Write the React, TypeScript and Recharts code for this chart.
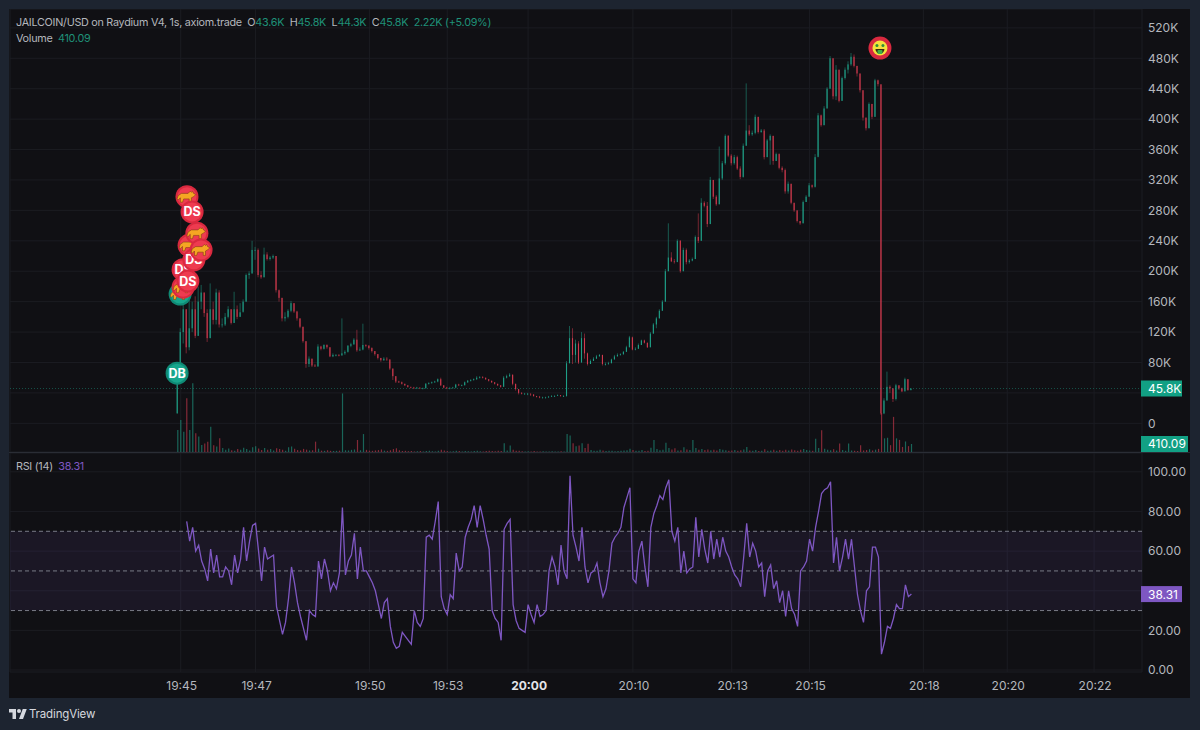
import { Bar, CartesianGrid, Cell, ComposedChart, Line, LineChart, ReferenceArea, ReferenceDot, ReferenceLine, XAxis, YAxis } from 'recharts';

/* every bar is one step on the time index, the chart starts at index 56 */
const firstBar = 56;
const firstRsi = 59;
const firstOpen = 13;
const timeDomain = [0, 378];

const timeTicks = [57, 82, 120, 146, 173, 208, 241, 267, 305, 333, 362];
const timeLabels = ['19:45', '19:47', '19:50', '19:53', '20:00', '20:10', '20:13', '20:15', '20:18', '20:20', '20:22'];
const priceTicks = [0, 40, 80, 120, 160, 200, 240, 280, 320, 360, 400, 440, 480, 520];
const rsiTicks = [0, 20, 40, 60, 80, 100];

/* prices in thousands of USD */
const closes = [
  53, 120, 150, 100, 125, 150, 115, 160, 172, 145,
  112, 150, 136, 172, 130, 130, 140, 150, 132, 150,
  140, 146, 160, 195, 197, 228, 228, 195, 192, 222,
  216, 218, 220, 175, 165, 138, 140, 148, 158, 147,
  138, 127, 108, 78, 85, 76, 75, 101, 98, 103,
  100, 88, 90, 90, 89, 92, 94, 102, 104, 110,
  96, 97, 103, 102, 99, 95, 91, 86, 83, 85,
  84, 72, 62, 55, 54, 52, 50, 48, 47, 46,
  47, 46, 46, 52, 53, 54, 55, 58, 50, 47,
  46, 46, 47, 51, 50, 50, 54, 56, 57, 58,
  60, 61, 60, 58, 56, 54, 52, 50, 48, 60,
  62, 64, 52, 45, 40, 39, 39, 39, 38, 36,
  35, 34, 34, 34, 35, 36, 36, 37, 36, 36,
  79, 112, 90, 105, 80, 112, 92, 78, 82, 85,
  88, 90, 78, 78, 79, 84, 88, 90, 91, 94,
  100, 113, 97, 98, 103, 109, 106, 100, 118, 130,
  138, 148, 160, 200, 218, 213, 212, 240, 200, 228,
  212, 214, 216, 245, 240, 290, 286, 262, 320, 298,
  288, 322, 342, 378, 352, 342, 350, 335, 324, 365,
  385, 380, 382, 403, 383, 385, 350, 372, 378, 345,
  354, 336, 333, 305, 315, 290, 280, 266, 263, 291,
  298, 313, 311, 350, 405, 392, 414, 440, 480, 430,
  465, 424, 454, 465, 472, 482, 470, 460, 438, 402,
  388, 420, 403, 451, 446, 13, 30, 48, 46, 32,
  50, 46, 42, 58, 43.6, 45.8,
];

const highs = [
  53, 125, 178, 150, 165, 160, 167, 180, 182, 172,
  150, 184, 160, 177, 175, 138, 145, 154, 150, 173,
  155, 158, 163, 197, 200, 240, 232, 230, 200, 231,
  225, 220, 222, 220, 176, 165, 146, 150, 161, 158,
  148, 138, 127, 108, 88, 85, 78, 104, 102, 104,
  104, 100, 92, 91, 91, 138, 96, 103, 106, 112,
  123, 100, 131, 104, 103, 100, 95, 91, 86, 87,
  87, 84, 72, 62, 56, 55, 52, 50, 48, 48,
  48, 47, 47, 53, 54, 55, 56, 59, 60, 50,
  48, 48, 48, 52, 52, 51, 55, 57, 58, 59,
  62, 62, 62, 60, 58, 56, 54, 52, 50, 62,
  64, 66, 64, 52, 45, 41, 40, 40, 39, 38,
  36, 36, 35, 35, 36, 37, 37, 38, 37, 37,
  82, 128, 125, 110, 108, 120, 118, 93, 84, 87,
  90, 91, 90, 80, 81, 85, 90, 92, 92, 95,
  102, 115, 114, 100, 105, 110, 110, 106, 120, 132,
  140, 150, 162, 203, 263, 225, 216, 242, 241, 231,
  230, 216, 218, 247, 276, 296, 292, 291, 324, 320,
  300, 364, 345, 380, 379, 354, 353, 352, 338, 368,
  447, 392, 385, 406, 403, 387, 387, 374, 380, 378,
  356, 355, 338, 335, 318, 315, 290, 280, 266, 293,
  300, 316, 314, 354, 408, 406, 417, 442, 483, 480,
  471, 465, 456, 468, 476, 487, 485, 470, 460, 438,
  402, 422, 420, 453, 452, 445, 33, 68, 50, 46,
  52, 50, 47, 60, 58, 45.8,
];

const lows = [
  13, 53, 105, 92, 96, 120, 112, 115, 150, 140,
  107, 112, 130, 130, 126, 126, 128, 138, 130, 132,
  137, 140, 148, 160, 190, 197, 215, 192, 190, 192,
  214, 214, 216, 172, 160, 134, 134, 138, 146, 145,
  135, 125, 106, 73, 74, 74, 74, 74, 96, 97,
  98, 87, 87, 88, 88, 90, 90, 93, 100, 103,
  94, 95, 96, 100, 97, 93, 89, 84, 81, 82,
  82, 70, 57, 53, 53, 51, 49, 47, 46, 45,
  45, 45, 45, 46, 51, 52, 53, 54, 49, 46,
  45, 45, 46, 46, 49, 49, 50, 53, 55, 56,
  57, 59, 59, 57, 55, 53, 51, 49, 47, 48,
  59, 61, 50, 43, 38, 38, 38, 37, 36, 35,
  34, 33, 33, 33, 34, 35, 35, 36, 35, 35,
  35, 79, 78, 80, 78, 80, 85, 76, 78, 82,
  85, 88, 76, 76, 77, 79, 84, 88, 89, 90,
  94, 100, 96, 96, 98, 103, 105, 99, 100, 118,
  125, 138, 148, 160, 200, 212, 210, 212, 198, 200,
  209, 210, 213, 216, 237, 240, 284, 258, 262, 295,
  286, 288, 320, 340, 350, 339, 340, 333, 321, 323,
  365, 378, 378, 380, 381, 382, 347, 350, 340, 340,
  345, 334, 330, 302, 302, 288, 278, 264, 261, 263,
  291, 298, 309, 310, 352, 390, 392, 414, 440, 426,
  425, 422, 424, 452, 460, 470, 468, 456, 435, 398,
  385, 388, 400, 403, 443, 11, 12, 30, 40, 28,
  30, 44, 41, 42, 43, 43.6,
];

const volumes = [
  1130, 1640, 1040, 2750, 1130, 3520, 960, 790, 360, 440,
  530, 1300, 350, 280, 700, 200, 120, 180, 90, 70,
  160, 110, 220, 150, 80, 240, 300, 180, 100, 210,
  120, 150, 80, 190, 160, 110, 70, 240, 280, 170,
  100, 80, 160, 120, 80, 90, 530, 170, 70, 60,
  90, 60, 50, 60, 70, 3000, 90, 80, 110, 130,
  615, 90, 920, 110, 70, 60, 80, 100, 130, 70,
  60, 90, 150, 190, 90, 50, 60, 40, 50, 30,
  40, 50, 30, 50, 70, 40, 30, 60, 110, 80,
  50, 30, 40, 60, 50, 30, 50, 40, 30, 50,
  60, 40, 30, 50, 70, 50, 40, 60, 50, 450,
  80, 330, 110, 70, 60, 40, 30, 40, 30, 50,
  30, 30, 40, 30, 30, 40, 30, 30, 40, 30,
  920, 850, 450, 300, 330, 450, 200, 420, 100, 70,
  60, 120, 80, 50, 60, 70, 40, 50, 60, 80,
  90, 170, 100, 70, 60, 100, 50, 60, 220, 615,
  160, 90, 120, 480, 200, 130, 190, 80, 90, 240,
  130, 100, 610, 200, 120, 160, 100, 130, 90, 110,
  80, 160, 110, 90, 60, 80, 100, 60, 90, 130,
  250, 80, 60, 100, 50, 60, 140, 60, 80, 120,
  60, 100, 60, 110, 80, 130, 90, 70, 120, 150,
  100, 80, 60, 680, 200, 1110, 170, 120, 90, 140,
  80, 430, 100, 70, 430, 80, 60, 50, 340, 80,
  100, 140, 80, 120, 160, 2000, 700, 730, 350, 1800,
  700, 620, 260, 540, 300, 410.09,
];

const rsiValues = [
  75, 65, 72, 60, 63, 55, 51, 45, 61, 49, 58, 47, 47, 52, 50, 43, 58, 49, 56, 72,
  55, 65, 73, 74, 60, 45, 62, 56, 57, 58, 32, 25, 18, 24, 36, 52, 44, 34, 27, 21,
  15, 30, 28, 27, 55, 46, 56, 50, 40, 44, 41, 49, 82, 48, 55, 58, 69, 46, 62, 50,
  50, 47, 44, 40, 33, 26, 34, 36, 22, 14, 11, 12, 19, 17, 15, 13, 30, 24, 22, 26,
  67, 68, 66, 75, 85, 37, 31, 28, 38, 36, 59, 50, 52, 67, 72, 76, 83, 72, 83, 76,
  68, 61, 30, 26, 24, 15, 71, 74, 76, 33, 25, 21, 20, 19, 33, 28, 24, 33, 27, 28,
  30, 50, 57, 52, 43, 63, 50, 46, 98, 68, 62, 55, 72, 52, 44, 49, 50, 54, 44, 37,
  41, 50, 64, 67, 69, 72, 82, 87, 92, 46, 44, 60, 65, 52, 42, 72, 79, 83, 88, 86,
  92, 96, 70, 65, 72, 49, 60, 49, 51, 52, 77, 57, 71, 61, 54, 70, 56, 66, 57, 67,
  60, 57, 52, 48, 46, 42, 57, 74, 57, 64, 60, 52, 54, 37, 50, 53, 41, 45, 34, 40,
  27, 40, 31, 28, 22, 50, 52, 55, 66, 60, 72, 80, 89, 91, 92, 95, 54, 67, 50, 57,
  66, 56, 66, 52, 38, 30, 24, 40, 42, 62, 62, 57, 8, 14, 22, 21, 26, 33, 31, 31,
  43, 37, 38.31,
];

/* buy and sell markers, drawn in this order so the later ones lie on top */
const markerTimes = [55.8, 56.8, 57.8, 57.8, 59.4, 59.8, 61.4, 62.4, 63.8, 59.1, 60.8];
const markerPrices = [66, 170, 179, 202, 187, 234, 215, 250, 228, 298, 278];
const markerKinds = ['DB', 'buycat', 'cat', 'DS', 'DS', 'cat', 'DS', 'cat', 'cat', 'cat', 'DS'];
const moneyTime = 290.5;
const moneyPrice = 493.5;

const lastPrice = 45.8;
const lastVolume = 410.09;
const lastRsi = 38.31;

const upColor = '#1f9f87';
const downColor = '#d23a4e';
const gridColor = '#1b1c22';
const textColor = '#b4b7bd';
const purple = '#7e57c2';
const font = 'Inter, "Noto Sans", sans-serif';

const bars = closes.map((close, n) => ({
  time: firstBar + n,
  open: n === 0 ? firstOpen : closes[n - 1],
  close,
  range: [lows[n], highs[n]],
  volume: volumes[n],
}));

const rsiData = rsiValues.map((rsi, n) => ({ time: firstRsi + n, rsi }));

/* the 40 labels sit under the value boxes in the original, the grid line stays */
const formatPrice = (v: number) => (v === 40 ? '' : v === 0 ? '0' : `${v}K`);
const formatRsi = (v: number) => (v === 40 ? '' : v.toFixed(2));
const formatTime = (v: number) => timeLabels[timeTicks.indexOf(v)];

/* wick and body of one candle, the bar itself only gives high and low */
const Candle = (props: any) => {
  const { x, y, width, height, payload } = props;
  const [low, high] = payload.range;
  const perUnit = high > low ? height / (high - low) : 0;
  const top = y + (high - Math.max(payload.open, payload.close)) * perUnit;
  const body = Math.max(Math.abs(payload.open - payload.close) * perUnit, 0.8);
  const color = payload.close >= payload.open ? upColor : downColor;
  const mid = x + width / 2;
  return (
    <g>
      <line x1={mid} x2={mid} y1={y} y2={y + height} stroke={color} strokeWidth={0.8} strokeOpacity={0.65} />
      <rect x={mid - 0.55} y={top} width={1.1} height={body} fill={color} />
    </g>
  );
};

const Cat = ({ cx, cy }: { cx: number; cy: number }) => (
  <path
    transform={`translate(${cx} ${cy}) scale(1.1)`}
    fill="#f5a623"
    stroke="#7a3b10"
    strokeWidth={0.5}
    d="M-8 -1 L-5 -3 L1 -3 L3 -5 L4 -4 L5 -5 L6 -3 L8 -2 L6 0 L4 1 L4 5 L2 5 L2 2 L-3 2 L-4 5 L-6 5 L-6 1 L-8 3 L-9 2 Z"
  />
);

const Marker = ({ cx, cy, kind }: { cx: number; cy: number; kind: string }) => {
  const buy = kind === 'DB' || kind === 'buycat';
  return (
    <g>
      <circle cx={cx} cy={cy} r={11.5} fill={buy ? '#0f8a75' : '#d9293f'} />
      <circle cx={cx} cy={cy} r={9.5} fill={buy ? '#17a78d' : '#ee3b50'} />
      {kind === 'cat' || kind === 'buycat' ? (
        <Cat cx={cx} cy={cy} />
      ) : (
        <text x={cx} y={cy + 4.5} textAnchor="middle" fontFamily={font} fontSize={12.5} fontWeight={700} fill="#fff">
          {kind}
        </text>
      )}
    </g>
  );
};

const MoneyFace = ({ cx, cy }: { cx: number; cy: number }) => (
  <g>
    <circle cx={cx} cy={cy} r={11.5} fill="#d9293f" />
    <circle cx={cx} cy={cy} r={7.5} fill="#f4e23c" />
    <circle cx={cx - 3} cy={cy - 2.5} r={1.5} fill="#2f8f3a" />
    <circle cx={cx + 3} cy={cy - 2.5} r={1.5} fill="#2f8f3a" />
    <path d={`M${cx - 4.5} ${cy + 1} h9 a4.5 4.5 0 0 1 -9 0 z`} fill="#3c2a12" />
    <rect x={cx - 2.5} y={cy + 2} width={5} height={4} rx={1} fill="#3fae49" />
  </g>
);

/* coloured value box on the price scale */
const Tag = ({ viewBox, text, fill, width }: any) => (
  <g>
    <rect x={viewBox.x + viewBox.width - 1} y={viewBox.y - 8} width={width} height={16} fill={fill} />
    <text
      x={viewBox.x + viewBox.width + 6}
      y={viewBox.y + 4.5}
      fontFamily={font}
      fontSize={12}
      fill="#fff"
    >
      {text}
    </text>
  </g>
);

const TimeTick = ({ x, y, payload }: any) => {
  const bold = payload.value === 173;
  return (
    <text x={x + 1} y={y + 10} textAnchor="middle" fontFamily={font} fontSize={12} fontWeight={bold ? 700 : 400} fill={bold ? '#e4e5e8' : textColor}>
      {formatTime(payload.value)}
    </text>
  );
};

const legendLine = { position: 'absolute', left: 16, fontFamily: font, fontSize: 10.8, letterSpacing: -0.28, color: textColor, whiteSpace: 'pre' } as const;
const green = { color: '#1f9078' };

const App = () => {
  return (
    <div style={{ position: 'absolute', left: 0, top: 0, width: 1200, height: 730, background: '#1d2430', overflow: 'hidden' }}>
      <div style={{ position: 'absolute', left: 9, top: 9, width: 1181, height: 689, background: '#101014' }} />

      <div style={{ position: 'absolute', left: 9, top: 9 }}>
        <ComposedChart width={1181} height={443} data={bars} margin={{ top: 0, right: 0, bottom: 0, left: 1 }}>
          <CartesianGrid stroke={gridColor} />
          <XAxis dataKey="time" type="number" domain={timeDomain} ticks={timeTicks} hide height={0} />
          <XAxis xAxisId="vol" dataKey="time" type="number" domain={timeDomain} hide height={0} />
          <YAxis
            orientation="right"
            width={48}
            domain={[-37.7, 544.8]}
            ticks={priceTicks}
            tickFormatter={formatPrice}
            allowDataOverflow
            axisLine={false}
            tickLine={false}
            tickSize={0}
            tickMargin={6}
            interval={0}
            tick={{ fill: textColor, fontSize: 12, fontFamily: font }}
          />
          <YAxis yAxisId="vol" orientation="right" hide domain={[0, 22700]} width={0} />
          <Bar xAxisId="vol" yAxisId="vol" dataKey="volume" barSize={1.2} isAnimationActive={false}>
            {bars.map((b) => (
              <Cell key={b.time} fill={b.close >= b.open ? upColor : downColor} fillOpacity={0.6} />
            ))}
          </Bar>
          <Bar dataKey="range" barSize={2} shape={<Candle />} isAnimationActive={false} />
          <ReferenceLine
            y={lastPrice}
            stroke={upColor}
            strokeOpacity={0.45}
            strokeDasharray="1 2"
            label={{ content: (p: any) => <Tag viewBox={p.viewBox} text="45.8K" fill="#12a084" width={41} /> }}
          />
          <ReferenceLine
            xAxisId="vol"
            yAxisId="vol"
            y={lastVolume}
            strokeOpacity={0}
            label={{ content: (p: any) => <Tag viewBox={p.viewBox} text="410.09" fill="#12a084" width={47} /> }}
          />
          {markerTimes.map((t, n) => (
            <ReferenceDot
              key={n}
              x={t}
              y={markerPrices[n]}
              ifOverflow="visible"
              shape={(p: any) => <Marker cx={p.cx} cy={p.cy} kind={markerKinds[n]} />}
            />
          ))}
          <ReferenceDot x={moneyTime} y={moneyPrice} ifOverflow="visible" shape={(p: any) => <MoneyFace cx={p.cx} cy={p.cy} />} />
        </ComposedChart>
      </div>

      <div style={{ position: 'absolute', left: 9, top: 452, width: 1181, height: 1, background: '#2a2d35' }} />

      <div style={{ position: 'absolute', left: 9, top: 453 }}>
        <LineChart width={1181} height={245} data={rsiData} margin={{ top: 0, right: 0, bottom: 0, left: 1 }}>
          <CartesianGrid stroke={gridColor} />
          <XAxis
            dataKey="time"
            type="number"
            domain={timeDomain}
            ticks={timeTicks}
            interval={0}
            height={26}
            axisLine={false}
            tickLine={false}
            tick={<TimeTick />}
          />
          <YAxis
            orientation="right"
            width={48}
            domain={[-1, 109.5]}
            ticks={rsiTicks}
            tickFormatter={formatRsi}
            allowDataOverflow
            axisLine={false}
            tickLine={false}
            tickSize={0}
            tickMargin={6}
            interval={0}
            tick={{ fill: textColor, fontSize: 12, fontFamily: font }}
          />
          <ReferenceArea y1={30} y2={70} fill={purple} fillOpacity={0.1} strokeOpacity={0} />
          <ReferenceLine y={70} stroke="#787b86" strokeDasharray="4 3" />
          <ReferenceLine y={50} stroke="#787b86" strokeDasharray="4 3" />
          <ReferenceLine y={30} stroke="#787b86" strokeDasharray="4 3" />
          <Line dataKey="rsi" stroke={purple} strokeWidth={1.3} dot={false} isAnimationActive={false} />
          <ReferenceLine
            y={lastRsi}
            strokeOpacity={0}
            label={{ content: (p: any) => <Tag viewBox={p.viewBox} text="38.31" fill={purple} width={41} /> }}
          />
        </LineChart>
      </div>

      <div style={{ ...legendLine, top: 16 }}>
        JAILCOIN/USD on Raydium V4, 1s, axiom.trade  O<span style={green}>43.6K</span>  H<span style={green}>45.8K</span>  L<span style={green}>44.3K</span>  C<span style={green}>45.8K</span>  <span style={green}>2.22K (+5.09%)</span>
      </div>
      <div style={{ ...legendLine, top: 32 }}>
        Volume  <span style={green}>410.09</span>
      </div>
      <div style={{ ...legendLine, top: 460 }}>
        RSI (14)  <span style={{ color: purple }}>38.31</span>
      </div>

      <svg style={{ position: 'absolute', left: 9, top: 708 }} width={18} height={12} viewBox="0 0 36 24">
        <path d="M14 22H7V9H0V2h14v20zM28 22h-8l7.5-20h8L28 22z" fill="#d5d8de" />
        <circle cx={20} cy={6} r={4} fill="#d5d8de" />
      </svg>
      <div style={{ position: 'absolute', left: 29, top: 707, fontFamily: font, fontSize: 11.5, letterSpacing: -0.15, color: '#d5d8de' }}>TradingView</div>
    </div>
  );
};

export default App;
